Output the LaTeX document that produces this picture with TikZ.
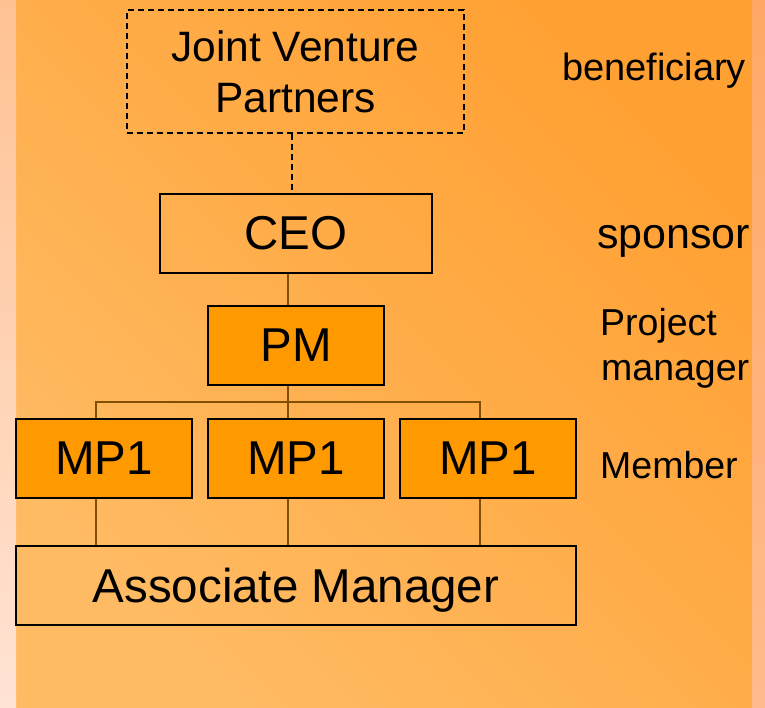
\documentclass[tikz,border=0pt]{standalone}
\usepackage{fontspec}
\setmainfont{Liberation Sans}
\definecolor{bgdark}{HTML}{FFA032}
\definecolor{bglight}{HTML}{FFBB64}
\definecolor{boxfill}{HTML}{FF9900}
\definecolor{conncol}{RGB}{128,80,0}
\definecolor{lefttop}{HTML}{FFC293}
\definecolor{leftbot}{HTML}{FFE3D4}
\definecolor{righttop}{HTML}{FFA866}
\definecolor{rightbot}{HTML}{FFBB8C}
\tikzset{
  orgbox/.style={draw=black, line width=1.8pt, inner sep=0pt, minimum height=79pt,
    font=\fontsize{47.5}{57}\selectfont, text=black},
  filledbox/.style={orgbox, fill=boxfill},
  conn/.style={draw=conncol, line width=1.3pt},
  dashconn/.style={draw=black, line width=1.8pt, dash pattern=on 6pt off 4pt},
  sidelabel/.style={anchor=base west, inner sep=0pt, text=black},
}
\begin{document}
\begin{tikzpicture}[x=1pt,y=-1pt]
\useasboundingbox (0,0) rectangle (765,707);
% background
\shade[top color=bgdark, bottom color=bglight, shading angle=-45] (16,0) rectangle (752,707);
\shade[top color=lefttop, bottom color=leftbot] (0,0) rectangle (16,707);
\shade[top color=righttop, bottom color=rightbot] (752,0) rectangle (765,707);
% boxes
\node[orgbox, dashed, dash pattern=on 6pt off 4pt, minimum width=337pt, minimum height=123pt,
  align=center, font=\fontsize{42.5}{51}\selectfont] (jvp) at (295.5,71.5) {Joint Venture\\Partners};
\node[orgbox, minimum width=272pt] (ceo) at (296,233.5) {CEO};
\node[filledbox, minimum width=176pt] (pm) at (296,345.5) {PM};
\node[filledbox, minimum width=176pt] (mpa) at (104,458.5) {MP1};
\node[filledbox, minimum width=176pt] (mpb) at (296,458.5) {MP1};
\node[filledbox, minimum width=176pt] (mpc) at (488,458.5) {MP1};
\node[orgbox, minimum width=560pt, text depth=0pt] (am) at (296,585.5) {Associate Manager};
\coordinate (bus) at (0,402);
% connectors
\draw[dashconn] ([xshift=-3.5pt]jvp.south) -- ([xshift=-4pt]ceo.north);
\draw[conn] ([xshift=-8pt]ceo.south) -- ([xshift=-8pt]pm.north);
\draw[conn] ([xshift=-8pt]pm.south) -- ([xshift=-8pt]mpb.north);
\draw[conn] ([xshift=-8pt]mpa.north) -- ([xshift=-8pt]mpa.north |- bus)
  -- ([xshift=-8pt]mpc.north |- bus) -- ([xshift=-8pt]mpc.north);
\draw[conn] ([xshift=-8pt]mpa.south) -- ([xshift=-8pt]mpa.south |- am.north);
\draw[conn] ([xshift=-8pt]mpb.south) -- ([xshift=-8pt]mpb.south |- am.north);
\draw[conn] ([xshift=-8pt]mpc.south) -- ([xshift=-8pt]mpc.south |- am.north);
% side labels
\node[sidelabel, font=\fontsize{38}{45}\selectfont] (lben) at (562,80) {beneficiary};
\node[sidelabel, font=\fontsize{43}{51}\selectfont] (lspo) at (597,248) {sponsor};
\node[sidelabel, font=\fontsize{37.5}{45}\selectfont] (lpro) at (600,335) {Project};
\node[sidelabel, font=\fontsize{37.5}{45}\selectfont] (lman) at (601,380) {manager};
\node[sidelabel, font=\fontsize{37.5}{45}\selectfont] (lmem) at (600,478) {Member};
\end{tikzpicture}
\end{document}
